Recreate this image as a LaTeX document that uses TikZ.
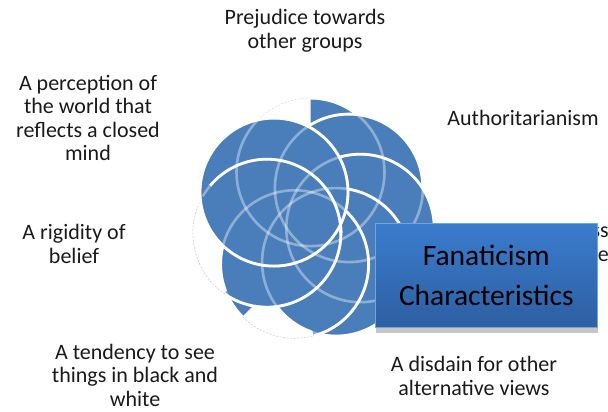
\documentclass[tikz,border=0pt]{standalone}
\usepackage{fontspec}
\setmainfont{Carlito}
\usetikzlibrary{calc}
\definecolor{petal}{HTML}{4A7EBB}
\definecolor{boxtop}{HTML}{3A7CCD}
\definecolor{boxbot}{HTML}{2E5FA2}
\definecolor{lbltxt}{HTML}{1A1A1A}
\newcommand{\petalpie}[4]{% center, from, to (visual ccw angles), radius
  \fill[petal] (#1) -- ($(#1)+(-#2:#4)$) arc[start angle=-#2, end angle=-#3, radius=#4] -- cycle;
  \draw[rim] ($(#1)+(-#2:#4)$) arc[start angle=-#2, end angle=-#3, radius=#4];
}
\newcommand{\rimarc}[4]{%
  \draw[rim] ($(#1)+(-#2:#4)$) arc[start angle=-#2, end angle=-#3, radius=#4];
}
\begin{document}
\begin{tikzpicture}[x=1pt,y=-1pt,
  lbl/.style={font=\fontsize{22}{23.5}\selectfont, align=center, text=lbltxt, inner sep=0pt},
  ghost/.style={draw=white, draw opacity=0.38, line width=2.6pt},
  rim/.style={draw=white, line width=2.8pt},
  faint/.style={draw=petal!40, dashed, dash pattern=on 2pt off 1.5pt, line width=0.5pt}]
\useasboundingbox (0,0) rectangle (608,412);
\def\R{74}
\coordinate (C) at (313,220);
\coordinate (c0) at (310.5,172.1);
\coordinate (c1) at (348.9,188.1);
\coordinate (c2) at (360.3,228.2);
\coordinate (c3) at (336.1,262.1);
\coordinate (c4) at (294.6,264.3);
\coordinate (c5) at (266.9,233.2);
\coordinate (c6) at (274.0,192.1);
% hidden label behind the box
\node[lbl, anchor=east, align=right] (l3) at (609,244) {ss\\e};
% faint outlines of every ring
\foreach \c in {c0,c1,c2,c3,c4,c5,c6}{ \draw[faint] (\c) circle (\R); }
% rings, partly revealed
\petalpie{c0}{180}{450}{\R}
\petalpie{c1}{0}{360}{\R}
\petalpie{c2}{0}{360}{\R}
\petalpie{c3}{0}{360}{\R}
\petalpie{c4}{-75}{225}{\R}
\petalpie{c5}{235}{510}{\R}
\petalpie{c6}{0}{360}{\R}
\rimarc{c5}{0}{140}{\R}
% ghost outlines seen through
\foreach \c in {c0,c1,c2,c3,c6}{ \draw[ghost] (\c) circle (\R); }
\draw[ghost] ($(c4)+(75:\R)$) arc[start angle=75, end angle=-225, radius=\R];
\draw[ghost] ($(c5)+(-235:\R)$) arc[start angle=-235, end angle=-510, radius=\R];
% title box
\fill[gray!45] (376,326) rectangle (598,333);
\node[draw=boxtop!70!white, line width=0.6pt, top color=boxtop, bottom color=boxbot,
      minimum width=222pt, minimum height=104pt, anchor=north west, inner sep=0pt,
      font=\fontsize{29.5}{40}\selectfont, align=center, text=black] (title) at (375,223)
      {Fanaticism\\Characteristics};
% labels
\node[lbl] (l1) at (305,31) {Prejudice towards\\other groups};
\node[lbl] (l2) at (523,118) {Authoritarianism};
\node[lbl] (l4) at (474,376) {A disdain for other\\alternative views};
\node[lbl] (l5) at (135,375) {A tendency to see\\things in black and\\white};
\node[lbl] (l6) at (74,244) {A rigidity of\\belief};
\node[lbl] (l7) at (88,118) {A perception of\\the world that\\reflects a closed\\mind};
\end{tikzpicture}
\end{document}
